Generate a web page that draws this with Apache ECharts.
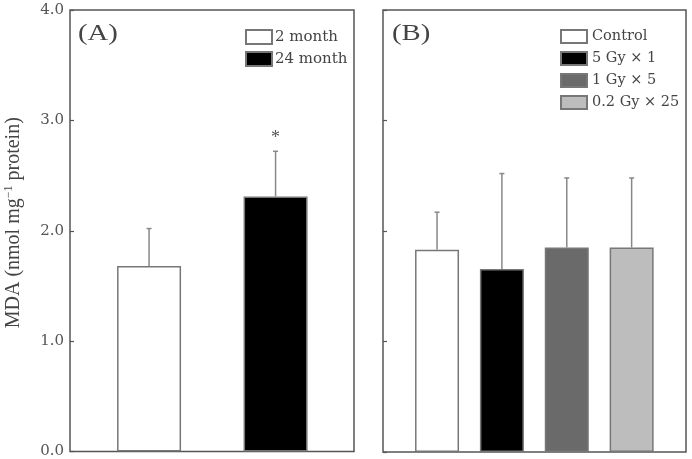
<!DOCTYPE html>
<html>
<head>
<meta charset="utf-8">
<script src="https://cdn.jsdelivr.net/npm/echarts@6/dist/echarts.min.js"></script>
<style>
  html, body { margin: 0; padding: 0; background: #fff; }
  #main { width: 692px; height: 459px; }
</style>
</head>
<body>
<div id="main"></div>
<script>
// panel A
var namesA = ['2 month', '24 month'];
var valuesA = [1.68, 2.31];
var upperA = [2.02, 2.72];
var sigA = ['', '*'];
var colorsA = ['#ffffff', '#000000'];

// panel B
var namesB = ['Control', '5 Gy × 1', '1 Gy × 5', '0.2 Gy × 25'];
var valuesB = [1.83, 1.655, 1.85, 1.85];
var upperB = [2.17, 2.52, 2.48, 2.48];
var colorsB = ['#ffffff', '#000000', '#6a6a6a', '#bdbdbd'];

var yTicks = [0, 1, 2, 3, 4];

var serif = 'Liberation Serif';
var wide = 'DejaVu Serif';
var chart = echarts.init(document.getElementById('main'));

function barSeries(names, values, colors, axisIdx, stackName, width) {
  return names.map(function (n, i) {
    return {
      name: n,
      type: 'bar',
      xAxisIndex: axisIdx,
      yAxisIndex: axisIdx,
      stack: stackName,
      barWidth: width,
      itemStyle: { color: colors[i], borderColor: '#777', borderWidth: 1.5 },
      data: [[i + 1, values[i]]],
      z: 2
    };
  });
}

function errSeries(values, upper, marks, axisIdx) {
  return {
    type: 'custom',
    xAxisIndex: axisIdx,
    yAxisIndex: axisIdx,
    z: 3,
    data: values.map(function (v, i) { return [i + 1, v, upper[i], marks ? marks[i] : '']; }),
    renderItem: function (params, api) {
      var base = api.coord([api.value(0), api.value(1)]);
      var top = api.coord([api.value(0), api.value(2)]);
      var st = { stroke: '#888', lineWidth: 1.5 };
      var kids = [
        { type: 'line', shape: { x1: base[0], y1: base[1], x2: top[0], y2: top[1] }, style: st },
        { type: 'line', shape: { x1: top[0] - 2.5, y1: top[1], x2: top[0] + 2.5, y2: top[1] }, style: st }
      ];
      var mark = api.value(3);
      if (mark) {
        kids.push({ type: 'text', style: { text: mark, x: top[0], y: top[1] - 4, align: 'center', verticalAlign: 'bottom',
          fontFamily: serif, fontSize: 18, fill: '#555' } });
      }
      return { type: 'group', children: kids };
    }
  };
}

function yAxis(idx, showLabels) {
  var ax = {
    type: 'value',
    gridIndex: idx,
    min: yTicks[0],
    max: yTicks[yTicks.length - 1],
    interval: 1,
    splitLine: { show: false },
    axisLine: { show: false },
    axisTick: { show: true, inside: true, length: 4, lineStyle: { color: '#555', width: 1.2 } },
    axisLabel: {
      show: showLabels,
      margin: 6,
      fontFamily: wide,
      fontSize: 15,
      color: '#555',
      formatter: function (v) { return v.toFixed(1); }
    }
  };
  if (idx === 0) {
    ax.name = 'MDA (nmol mg{sup|−1} protein)';
    ax.nameLocation = 'middle';
    ax.nameRotate = 90;
    ax.nameGap = 46;
    ax.nameTextStyle = {
      fontFamily: serif, fontSize: 20, color: '#444', padding: [0, 0, 0, 16],
      rich: { sup: { fontFamily: serif, fontSize: 12, color: '#444', verticalAlign: 'top', padding: [0, 0, 9, 0] } }
    };
  }
  return ax;
}

function xAxis(idx, min, max) {
  return {
    type: 'value', gridIndex: idx, min: min, max: max,
    axisLine: { show: false }, axisTick: { show: false }, axisLabel: { show: false }, splitLine: { show: false }
  };
}

chart.setOption({
  animation: false,
  grid: [
    { left: 70, top: 10, width: 284, bottom: 7, show: true, borderColor: '#555', borderWidth: 1.5, backgroundColor: 'transparent' },
    { left: 383, top: 10, width: 303, bottom: 7, show: true, borderColor: '#555', borderWidth: 1.5, backgroundColor: 'transparent' }
  ],
  xAxis: [xAxis(0, 0.375, 2.62), xAxis(1, 0.167, 4.838)],
  yAxis: [yAxis(0, true), yAxis(1, false)],
  legend: [
    {
      data: namesA, left: 240, top: 24, orient: 'vertical', itemWidth: 26, itemHeight: 14, itemGap: 6,
      icon: 'rect', textStyle: { fontFamily: wide, fontSize: 15, lineHeight: 14, color: '#444', padding: [0, 0, 0, -2] },
      selectedMode: false
    },
    {
      data: namesB, left: 555, top: 24, orient: 'vertical', itemWidth: 26, itemHeight: 13, itemGap: 7,
      icon: 'rect', textStyle: { fontFamily: wide, fontSize: 14.5, lineHeight: 13, color: '#444', padding: [0, 0, 0, 0] },
      selectedMode: false
    }
  ],
  graphic: [
    { type: 'text', x: 78, y: 22, scaleX: 1.25, style: { text: '(A)', fontFamily: serif, fontSize: 23, fill: '#444' } },
    { type: 'text', x: 392, y: 22, scaleX: 1.25, style: { text: '(B)', fontFamily: serif, fontSize: 23, fill: '#444' } }
  ],
  series: []
    .concat(barSeries(namesA, valuesA, colorsA, 0, 'a', 64))
    .concat([errSeries(valuesA, upperA, sigA, 0)])
    .concat(barSeries(namesB, valuesB, colorsB, 1, 'b', 44))
    .concat([errSeries(valuesB, upperB, null, 1)])
});
</script>
</body>
</html>
